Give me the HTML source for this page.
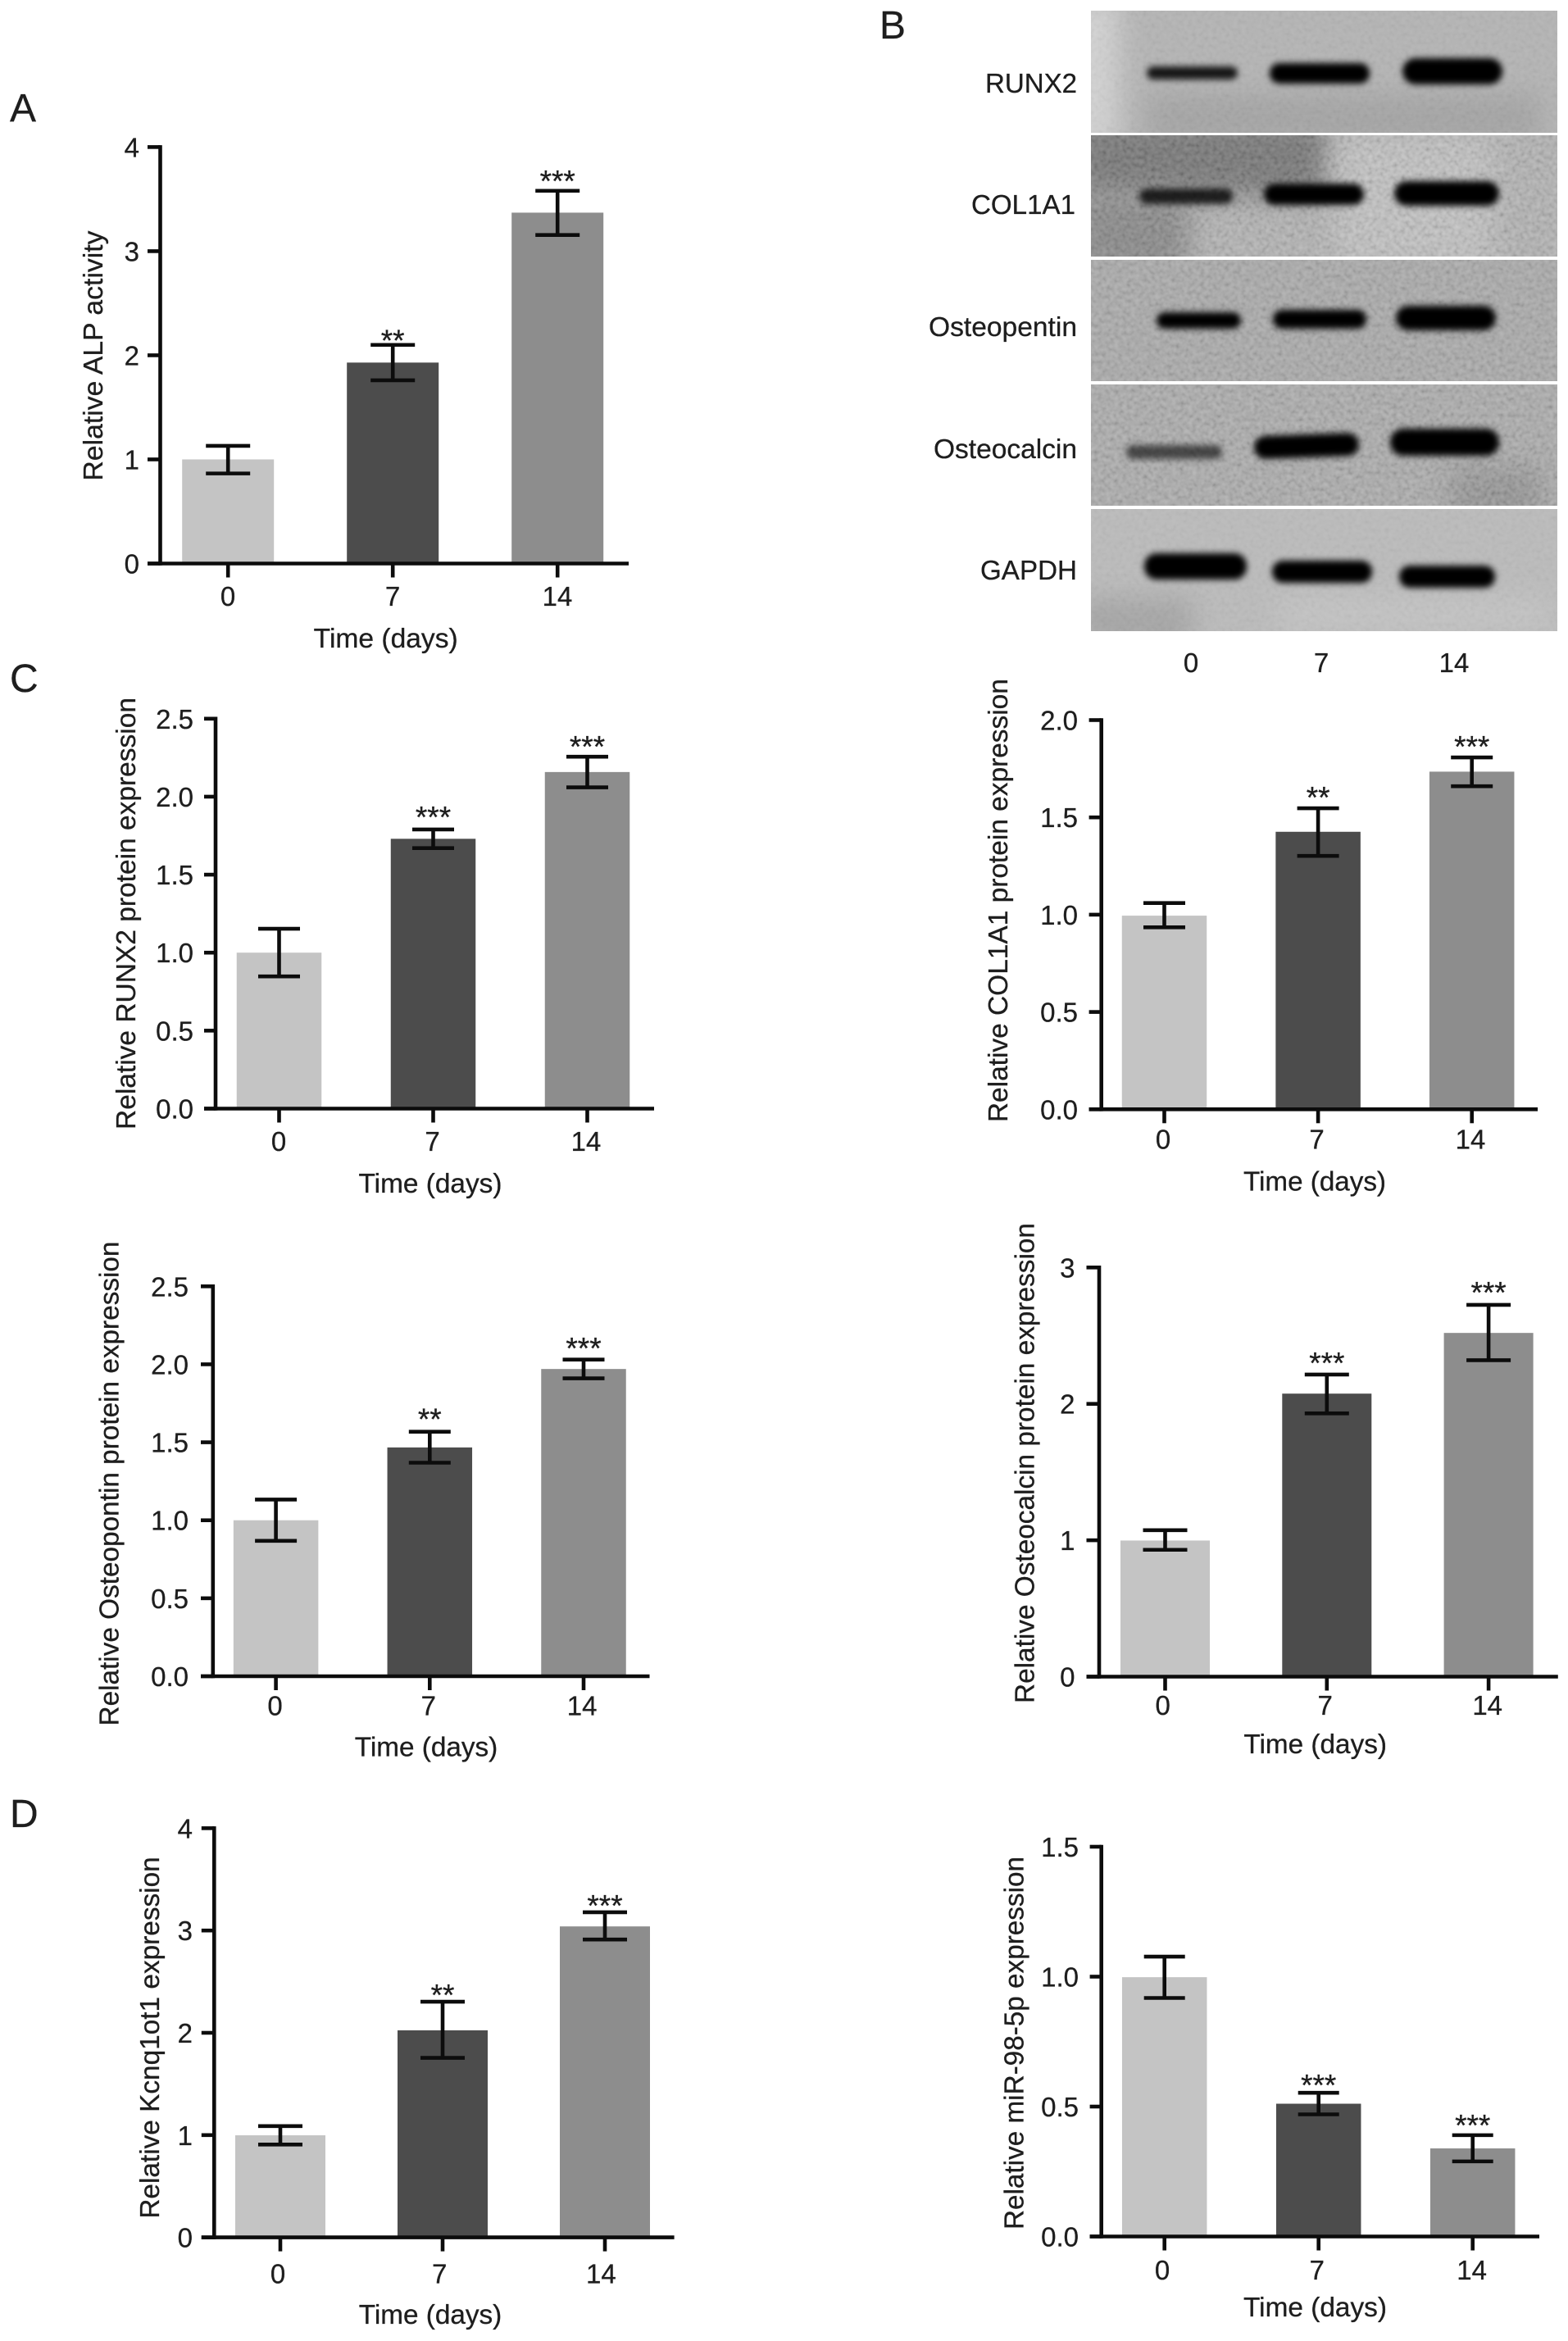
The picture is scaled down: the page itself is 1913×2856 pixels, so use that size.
<!DOCTYPE html>
<html lang="en">
<head>
<meta charset="utf-8">
<title>Osteogenic differentiation figure</title>
<style>
html,body{margin:0;padding:0;background:#fff;}
svg{display:block;font-family:"Liberation Sans",Arial,sans-serif;}
text{fill:#1e1e1e;stroke:#1e1e1e;stroke-width:0.3px;}
</style>
</head>
<body>
<svg id="figure" xmlns="http://www.w3.org/2000/svg" width="1913" height="2856" viewBox="0 0 1913 2856">
  <defs>
    <filter id="bandBlur" x="-30%" y="-100%" width="160%" height="300%"><feGaussianBlur stdDeviation="4"/></filter>
    <filter id="softBlur" filterUnits="userSpaceOnUse" x="1250" y="0" width="663" height="850"><feGaussianBlur stdDeviation="16"/></filter>
    <filter id="noise" x="0" y="0" width="100%" height="100%">
      <feTurbulence type="fractalNoise" baseFrequency="0.2" numOctaves="2" seed="7"/>
      <feColorMatrix type="matrix" values="1.6 0 0 0 -0.3  1.6 0 0 0 -0.3  1.6 0 0 0 -0.3  0 0 0 0 1"/>
      <feGaussianBlur stdDeviation="0.7"/>
    </filter>
    <clipPath id="clipP1"><rect x="1331" y="13" width="569" height="149"/></clipPath>
    <clipPath id="clipP2"><rect x="1331" y="165" width="569" height="148"/></clipPath>
    <clipPath id="clipP3"><rect x="1331" y="317" width="569" height="148"/></clipPath>
    <clipPath id="clipP4"><rect x="1331" y="469" width="569" height="148"/></clipPath>
    <clipPath id="clipP5"><rect x="1331" y="621" width="569" height="149"/></clipPath>
  </defs>

  <text x="12" y="148" font-size="48">A</text>
  <text x="1073" y="47" font-size="48">B</text>
  <text x="12" y="844" font-size="48">C</text>
  <text x="12" y="2229" font-size="48">D</text>

  <g>
    <g clip-path="url(#clipP1)">
      <rect x="1331" y="13" width="569" height="149" fill="#b4b4b4"/>
      <rect x="1305" y="0" width="60" height="180" fill="#d2d2d2" filter="url(#softBlur)"/>
      <rect x="1400" y="115" width="480" height="60" fill="#a4a4a4" filter="url(#softBlur)"/>
      <rect x="1331" y="13" width="569" height="149" filter="url(#noise)" opacity="0.06"/>
      <g filter="url(#bandBlur)" fill="#000">
        <rect x="1399" y="81" width="111" height="16" rx="8" opacity="0.88"/>
        <rect x="1549" y="77" width="122" height="25" rx="12"/>
        <rect x="1711" y="71" width="122" height="32" rx="16"/>
      </g>
    </g>
    <g clip-path="url(#clipP2)">
      <rect x="1331" y="165" width="569" height="148" fill="#b0b0b0"/>
      <rect x="1310" y="145" width="310" height="95" fill="#727272" filter="url(#softBlur)"/>
      <rect x="1310" y="235" width="140" height="100" fill="#858585" filter="url(#softBlur)"/>
      <rect x="1630" y="165" width="190" height="160" fill="#bfbfbf" filter="url(#softBlur)"/>
      <rect x="1331" y="165" width="569" height="148" filter="url(#noise)" opacity="0.18"/>
      <g filter="url(#bandBlur)" fill="#000">
        <rect x="1390" y="230" width="114" height="19" rx="9" opacity="0.8"/>
        <rect x="1542" y="224" width="122" height="26" rx="13"/>
        <rect x="1701" y="221" width="128" height="30" rx="15"/>
      </g>
    </g>
    <g clip-path="url(#clipP3)">
      <rect x="1331" y="317" width="569" height="148" fill="#a8a8a8"/>
      <rect x="1331" y="317" width="569" height="148" filter="url(#noise)" opacity="0.16"/>
      <g filter="url(#bandBlur)" fill="#000">
        <rect x="1411" y="381" width="103" height="20" rx="10"/>
        <rect x="1553" y="378" width="114" height="23" rx="11"/>
        <rect x="1703" y="373" width="122" height="30" rx="15"/>
      </g>
    </g>
    <g clip-path="url(#clipP4)">
      <rect x="1331" y="469" width="569" height="148" fill="#a9a9a9"/>
      <rect x="1770" y="570" width="110" height="70" fill="#929292" filter="url(#softBlur)"/>
      <rect x="1331" y="469" width="569" height="148" filter="url(#noise)" opacity="0.18"/>
      <g filter="url(#bandBlur)" fill="#000">
        <rect x="1374" y="543" width="117" height="17" rx="8" opacity="0.6"/>
        <rect x="1530" y="530" width="128" height="28" rx="14" transform="rotate(-2 1594 544)"/>
        <rect x="1696" y="523" width="133" height="33" rx="16"/>
      </g>
    </g>
    <g clip-path="url(#clipP5)">
      <rect x="1331" y="621" width="569" height="149" fill="#bbbbbb"/>
      <rect x="1315" y="730" width="140" height="60" fill="#a6a6a6" filter="url(#softBlur)"/>
      <rect x="1560" y="730" width="330" height="40" fill="#c4c4c4" filter="url(#softBlur)"/>
      <rect x="1331" y="621" width="569" height="149" filter="url(#noise)" opacity="0.05"/>
      <g filter="url(#bandBlur)" fill="#000">
        <rect x="1396" y="675" width="125" height="32" rx="15"/>
        <rect x="1552" y="684" width="122" height="27" rx="13"/>
        <rect x="1707" y="690" width="117" height="27" rx="13"/>
      </g>
    </g>
    <text x="1314" y="113" font-size="33" text-anchor="end" textLength="112" lengthAdjust="spacingAndGlyphs">RUNX2</text>
    <text x="1312" y="261" font-size="33" text-anchor="end" textLength="127" lengthAdjust="spacingAndGlyphs">COL1A1</text>
    <text x="1314" y="410" font-size="33" text-anchor="end" textLength="181" lengthAdjust="spacingAndGlyphs">Osteopentin</text>
    <text x="1314" y="559" font-size="33" text-anchor="end" textLength="175" lengthAdjust="spacingAndGlyphs">Osteocalcin</text>
    <text x="1314" y="707" font-size="33" text-anchor="end" textLength="118" lengthAdjust="spacingAndGlyphs">GAPDH</text>
    <text x="1453" y="820" font-size="33" text-anchor="middle">0</text>
    <text x="1612" y="820" font-size="33" text-anchor="middle">7</text>
    <text x="1774" y="820" font-size="33" text-anchor="middle">14</text>
  </g>
  <g id="charts"></g>
</svg>

<script>
// Shared category labels
const timeCategories = ['0', '7', '14'];

// ALP activity
const alpTicks = ['0', '1', '2', '3', '4'];
const alpValues = [1.0, 1.93, 3.37];
const alpErrHigh = [1.13, 2.10, 3.58];
const alpErrLow = [0.865, 1.76, 3.155];
const alpStars = ['', '**', '***'];

// RUNX2
const runx2Ticks = ['0.0', '0.5', '1.0', '1.5', '2.0', '2.5'];
const runx2Values = [1.0, 1.73, 2.158];
const runx2ErrHigh = [1.153, 1.79, 2.256];
const runx2ErrLow = [0.848, 1.67, 2.06];
const runx2Stars = ['', '***', '***'];

// COL1A1
const col1a1Ticks = ['0.0', '0.5', '1.0', '1.5', '2.0'];
const col1a1Values = [0.995, 1.426, 1.735];
const col1a1ErrHigh = [1.06, 1.547, 1.808];
const col1a1ErrLow = [0.935, 1.302, 1.66];
const col1a1Stars = ['', '**', '***'];

// Osteopontin
const osteopontinTicks = ['0.0', '0.5', '1.0', '1.5', '2.0', '2.5'];
const osteopontinValues = [1.0, 1.467, 1.97];
const osteopontinErrHigh = [1.133, 1.568, 2.03];
const osteopontinErrLow = [0.868, 1.369, 1.91];
const osteopontinStars = ['', '**', '***'];

// Osteocalcin
const osteocalcinTicks = ['0', '1', '2', '3'];
const osteocalcinValues = [0.998, 2.075, 2.52];
const osteocalcinErrHigh = [1.074, 2.215, 2.726];
const osteocalcinErrLow = [0.93, 1.93, 2.32];
const osteocalcinStars = ['', '***', '***'];

// Kcnq1ot1
const kcnqTicks = ['0', '1', '2', '3', '4'];
const kcnqValues = [0.998, 2.024, 3.04];
const kcnqErrHigh = [1.088, 2.304, 3.178];
const kcnqErrLow = [0.908, 1.755, 2.912];
const kcnqStars = ['', '**', '***'];

// miR-98-5p
const mirTicks = ['0.0', '0.5', '1.0', '1.5'];
const mirValues = [0.998, 0.511, 0.339];
const mirErrHigh = [1.077, 0.553, 0.39];
const mirErrLow = [0.918, 0.47, 0.289];
const mirStars = ['', '***', '***'];

// Shared styling
const barFills = ['#c4c4c4', '#4c4c4c', '#8d8d8d'];
const SVG_NS = 'http://www.w3.org/2000/svg';
const chartsRoot = document.getElementById('charts');

function make(tag, parent, props, content) {
  const el = document.createElementNS(SVG_NS, tag);
  for (const k in props) el.setAttribute(k, props[k]);
  if (content !== undefined) el.textContent = content;
  parent.appendChild(el);
  return el;
}

function drawChart(layout, categories, ticks, values, errHigh, errLow, stars) {
  const yMax = parseFloat(ticks[ticks.length - 1]);
  const yScale = v => layout.y0 - (v / yMax) * (layout.y0 - layout.yTop);
  const xScale = i => layout.center0 + i * layout.step;
  const labelX = i => layout.label0 + i * layout.labelStep;

  const g = make('g', chartsRoot, {});
  
  

  values.forEach((v, i) => {
    const bar = make('rect', g, {
      x: xScale(i) - layout.barW / 2,
      y: yScale(v),
      width: layout.barW,
      height: layout.y0 - yScale(v),
      fill: barFills[i]
    });
    
    
  });

  values.forEach((v, i) => {
    const cx = xScale(i);
    const hi = yScale(errHigh[i]);
    const lo = yScale(errLow[i]);
    const err = make('path', g, {
      d: 'M' + (cx - layout.capW / 2) + ' ' + hi + 'H' + (cx + layout.capW / 2) +
         'M' + cx + ' ' + hi + 'V' + lo +
         'M' + (cx - layout.capW / 2) + ' ' + lo + 'H' + (cx + layout.capW / 2),
      fill: 'none', stroke: '#0c0c0c', 'stroke-width': 4.6
    });
    
    
    if (stars[i]) {
      const star = make('text', g, {
        x: cx, y: hi - layout.starGap[i] + 17.5,
        'font-size': 37, 'text-anchor': 'middle'
      }, stars[i]);
      
      
    }
  });

  const yAxis = make('line', g, {
    x1: layout.axisX, x2: layout.axisX, y1: layout.yTop - 2.3, y2: layout.y0 + 2.3,
    stroke: '#0c0c0c', 'stroke-width': 4.6
  });
  
  

  const xAxis = make('line', g, {
    x1: layout.axisLeft, x2: layout.axisRight, y1: layout.y0, y2: layout.y0,
    stroke: '#0c0c0c', 'stroke-width': 4.6
  });
  
  

  ticks.forEach(t => {
    const ty = yScale(parseFloat(t));
    const mark = make('line', g, {
      x1: layout.axisLeft, x2: layout.axisX, y1: ty, y2: ty,
      stroke: '#0c0c0c', 'stroke-width': 4.6
    });
    
    
    const label = make('text', g, {
      x: layout.tickRight, y: ty + 12, 'font-size': 33, 'text-anchor': 'end'
    }, t);
    
    
  });

  categories.forEach((c, i) => {
    const mark = make('line', g, {
      x1: xScale(i), x2: xScale(i), y1: layout.y0, y2: layout.y0 + 17,
      stroke: '#0c0c0c', 'stroke-width': 4.6
    });
    
    
    const label = make('text', g, {
      x: labelX(i), y: layout.xLabelY, 'font-size': 33, 'text-anchor': 'middle'
    }, c);
    
    
  });

  const xTitle = make('text', g, {
    x: layout.xTitleX, y: layout.xTitleY, 'font-size': 33, 'text-anchor': 'middle',
    textLength: layout.xTitleLen, lengthAdjust: 'spacingAndGlyphs'
  }, 'Time (days)');
  
  

  const yTitle = make('text', g, {
    x: layout.yTitleX, y: layout.yTitleY, 'font-size': 33, 'text-anchor': 'middle',
    transform: 'rotate(-90 ' + layout.yTitleX + ' ' + layout.yTitleY + ')',
    textLength: layout.yTitleLen, lengthAdjust: 'spacingAndGlyphs'
  }, layout.yTitle);
  
  
}

drawChart({
  name: 'chart-alp-activity', yTitle: 'Relative ALP activity',
  axisX: 195.5, axisLeft: 180, axisRight: 767, y0: 687.5, yTop: 179.4,
  center0: 278.2, step: 201, barW: 112, capW: 54, label0: 278, labelStep: 201,
  tickRight: 170, xLabelY: 739, xTitleX: 470.7, xTitleY: 790, xTitleLen: 176,
  yTitleX: 125, yTitleY: 434, yTitleLen: 305, starGap: [0, 10, 17]
}, timeCategories, alpTicks, alpValues, alpErrHigh, alpErrLow, alpStars);

drawChart({
  name: 'chart-runx2-expression', yTitle: 'Relative RUNX2 protein expression',
  axisX: 263, axisLeft: 249, axisRight: 798, y0: 1352.5, yTop: 876.8,
  center0: 340.5, step: 188, barW: 103.5, capW: 51, label0: 340, labelStep: 187.5,
  tickRight: 236, xLabelY: 1404, xTitleX: 525, xTitleY: 1454.8, xTitleLen: 175,
  yTitleX: 165, yTitleY: 1114.5, yTitleLen: 527, starGap: [0, 20, 17]
}, timeCategories, runx2Ticks, runx2Values, runx2ErrHigh, runx2ErrLow, runx2Stars);

drawChart({
  name: 'chart-col1a1-expression', yTitle: 'Relative COL1A1 protein expression',
  axisX: 1343.7, axisLeft: 1328.6, axisRight: 1876, y0: 1353.3, yTop: 878.5,
  center0: 1420.5, step: 187.6, barW: 103.5, capW: 51, label0: 1419, labelStep: 187.5,
  tickRight: 1315, xLabelY: 1401.5, xTitleX: 1604, xTitleY: 1452.6, xTitleLen: 174,
  yTitleX: 1229, yTitleY: 1098.6, yTitleLen: 541, starGap: [0, 18, 18]
}, timeCategories, col1a1Ticks, col1a1Values, col1a1ErrHigh, col1a1ErrLow, col1a1Stars);

drawChart({
  name: 'chart-osteopontin-expression', yTitle: 'Relative Osteopontin protein expression',
  axisX: 259.8, axisLeft: 245, axisRight: 792.5, y0: 2045, yTop: 1569.3,
  center0: 336.6, step: 187.7, barW: 103.5, capW: 51, label0: 335.5, labelStep: 187.3,
  tickRight: 230, xLabelY: 2092.3, xTitleX: 520, xTitleY: 2142.6, xTitleLen: 174.5,
  yTitleX: 144.5, yTitleY: 1810, yTitleLen: 591, starGap: [0, 20, 18.6]
}, timeCategories, osteopontinTicks, osteopontinValues, osteopontinErrHigh, osteopontinErrLow, osteopontinStars);

drawChart({
  name: 'chart-osteocalcin-expression', yTitle: 'Relative Osteocalcin protein expression',
  axisX: 1341, axisLeft: 1325.5, axisRight: 1900.8, y0: 2045.5, yTop: 1546.3,
  center0: 1421.5, step: 197.3, barW: 109, capW: 54, label0: 1418.7, labelStep: 198,
  tickRight: 1311.5, xLabelY: 2092, xTitleX: 1604.7, xTitleY: 2139, xTitleLen: 174.6,
  yTitleX: 1261.4, yTitleY: 1785, yTitleLen: 586, starGap: [0, 19, 20]
}, timeCategories, osteocalcinTicks, osteocalcinValues, osteocalcinErrHigh, osteocalcinErrLow, osteocalcinStars);

drawChart({
  name: 'chart-kcnq1ot1-expression', yTitle: 'Relative Kcnq1ot1 expression',
  axisX: 261.3, axisLeft: 245.8, axisRight: 822.6, y0: 2729.6, yTop: 2230.4,
  center0: 342, step: 198, barW: 110, capW: 54, label0: 339, labelStep: 197.2,
  tickRight: 235, xLabelY: 2785.6, xTitleX: 525, xTitleY: 2835, xTitleLen: 174.5,
  yTitleX: 194, yTitleY: 2486, yTitleLen: 441.4, starGap: [0, 13, 13]
}, timeCategories, kcnqTicks, kcnqValues, kcnqErrHigh, kcnqErrLow, kcnqStars);

drawChart({
  name: 'chart-mir-98-5p-expression', yTitle: 'Relative miR-98-5p expression',
  axisX: 1343.7, axisLeft: 1329.6, axisRight: 1878, y0: 2728.5, yTop: 2253,
  center0: 1420.7, step: 188, barW: 103.5, capW: 50, label0: 1418, labelStep: 188.8,
  tickRight: 1316, xLabelY: 2780.8, xTitleX: 1604.5, xTitleY: 2826, xTitleLen: 175,
  yTitleX: 1248.7, yTitleY: 2492.5, yTitleLen: 455, starGap: [0, 14, 17]
}, timeCategories, mirTicks, mirValues, mirErrHigh, mirErrLow, mirStars);
</script>
</body>
</html>
